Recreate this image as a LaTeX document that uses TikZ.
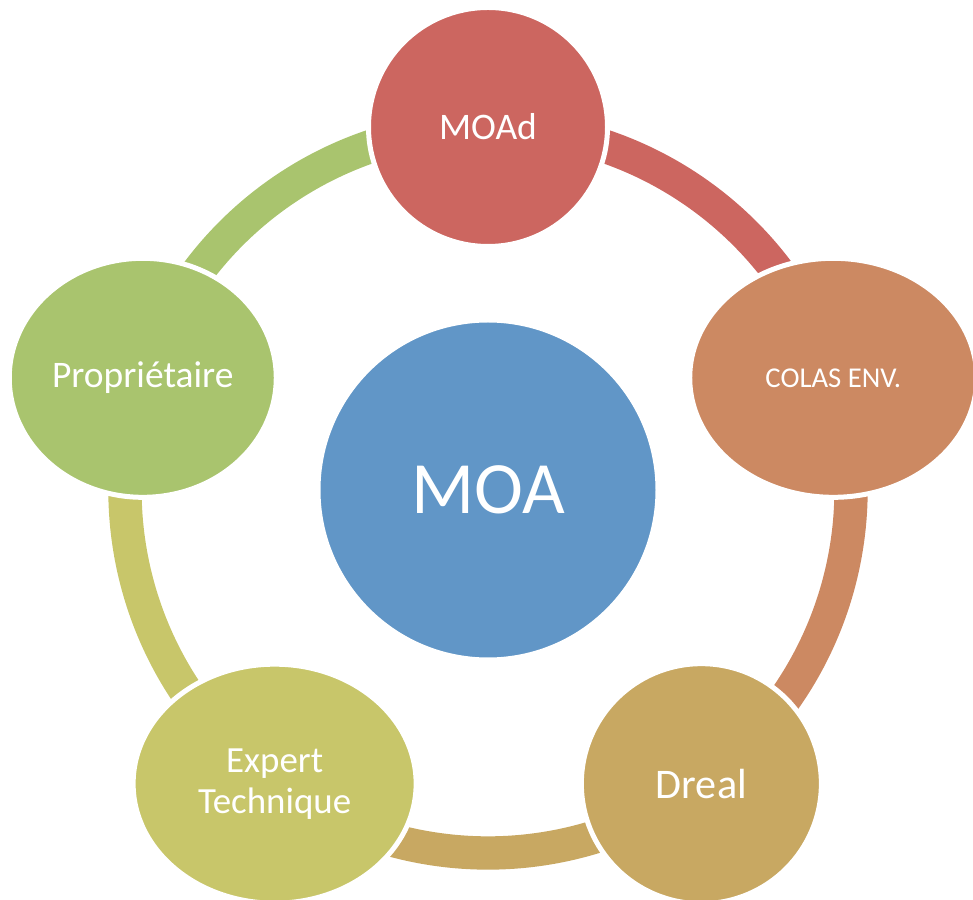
\documentclass[tikz,border=0pt]{standalone}
\usepackage{fontspec}
\setmainfont{Carlito}
\usepackage{xcolor}
\usetikzlibrary{shapes.geometric, backgrounds}

\definecolor{moaBlue}{HTML}{6196C7}
\definecolor{moadRed}{HTML}{CC6660}
\definecolor{colasOrange}{HTML}{CC8962}
\definecolor{drealTan}{HTML}{C8A862}
\definecolor{expertOlive}{HTML}{C8C66A}
\definecolor{proprioGreen}{HTML}{A9C46E}

\begin{document}
\begin{tikzpicture}[
    actor/.style={
        ellipse,
        draw=white,
        line width=1.5mm,
        inner sep=0pt,
        minimum height=7.17cm,
        text=white,
        align=center
    },
    link/.style={line width=1cm}
]
\useasboundingbox (-14.64,-12.3) rectangle (14.55,14.7);

% Centre
\node (moa) [actor, circle, fill=moaBlue, minimum size=10.2cm,
    font=\fontsize{63}{70}\selectfont] at (0,0) {MOA};

% Ring of actors
\node (moad) [actor, circle, fill=moadRed, minimum size=7.17cm,
    font=\fontsize{32}{36}\selectfont] at (90:10.89) {MOAd};

\node (colas) [actor, fill=colasOrange, minimum width=8.61cm,
    font=\fontsize{24.5}{29}\selectfont] at (18:10.89) {COLAS ENV.};

\node (dreal) [actor, circle, fill=drealTan, minimum size=7.2cm,
    font=\fontsize{36}{40}\selectfont] at (-54:10.89) {Dreal};

\node (expert) [actor, fill=expertOlive, minimum width=8.49cm,
    font=\fontsize{31.5}{35}\selectfont] at (-126:10.89) {Expert\\Technique};

\node (proprio) [actor, fill=proprioGreen, minimum width=8.01cm,
    font=\fontsize{32}{37}\selectfont] at (162:10.89) {Propriétaire};

% Ring arcs, behind the actors
\begin{pgfonlayer}{background}
\draw[link, moadRed] (moad.center) arc[start angle=90, end angle=18, radius=10.89];
\draw[link, colasOrange] (colas.center) arc[start angle=18, end angle=-54, radius=10.89];
\draw[link, drealTan] (dreal.center) arc[start angle=-54, end angle=-126, radius=10.89];
\draw[link, expertOlive] (expert.center) arc[start angle=234, end angle=162, radius=10.89];
\draw[link, proprioGreen] (proprio.center) arc[start angle=162, end angle=90, radius=10.89];
\end{pgfonlayer}

\end{tikzpicture}
\end{document}
